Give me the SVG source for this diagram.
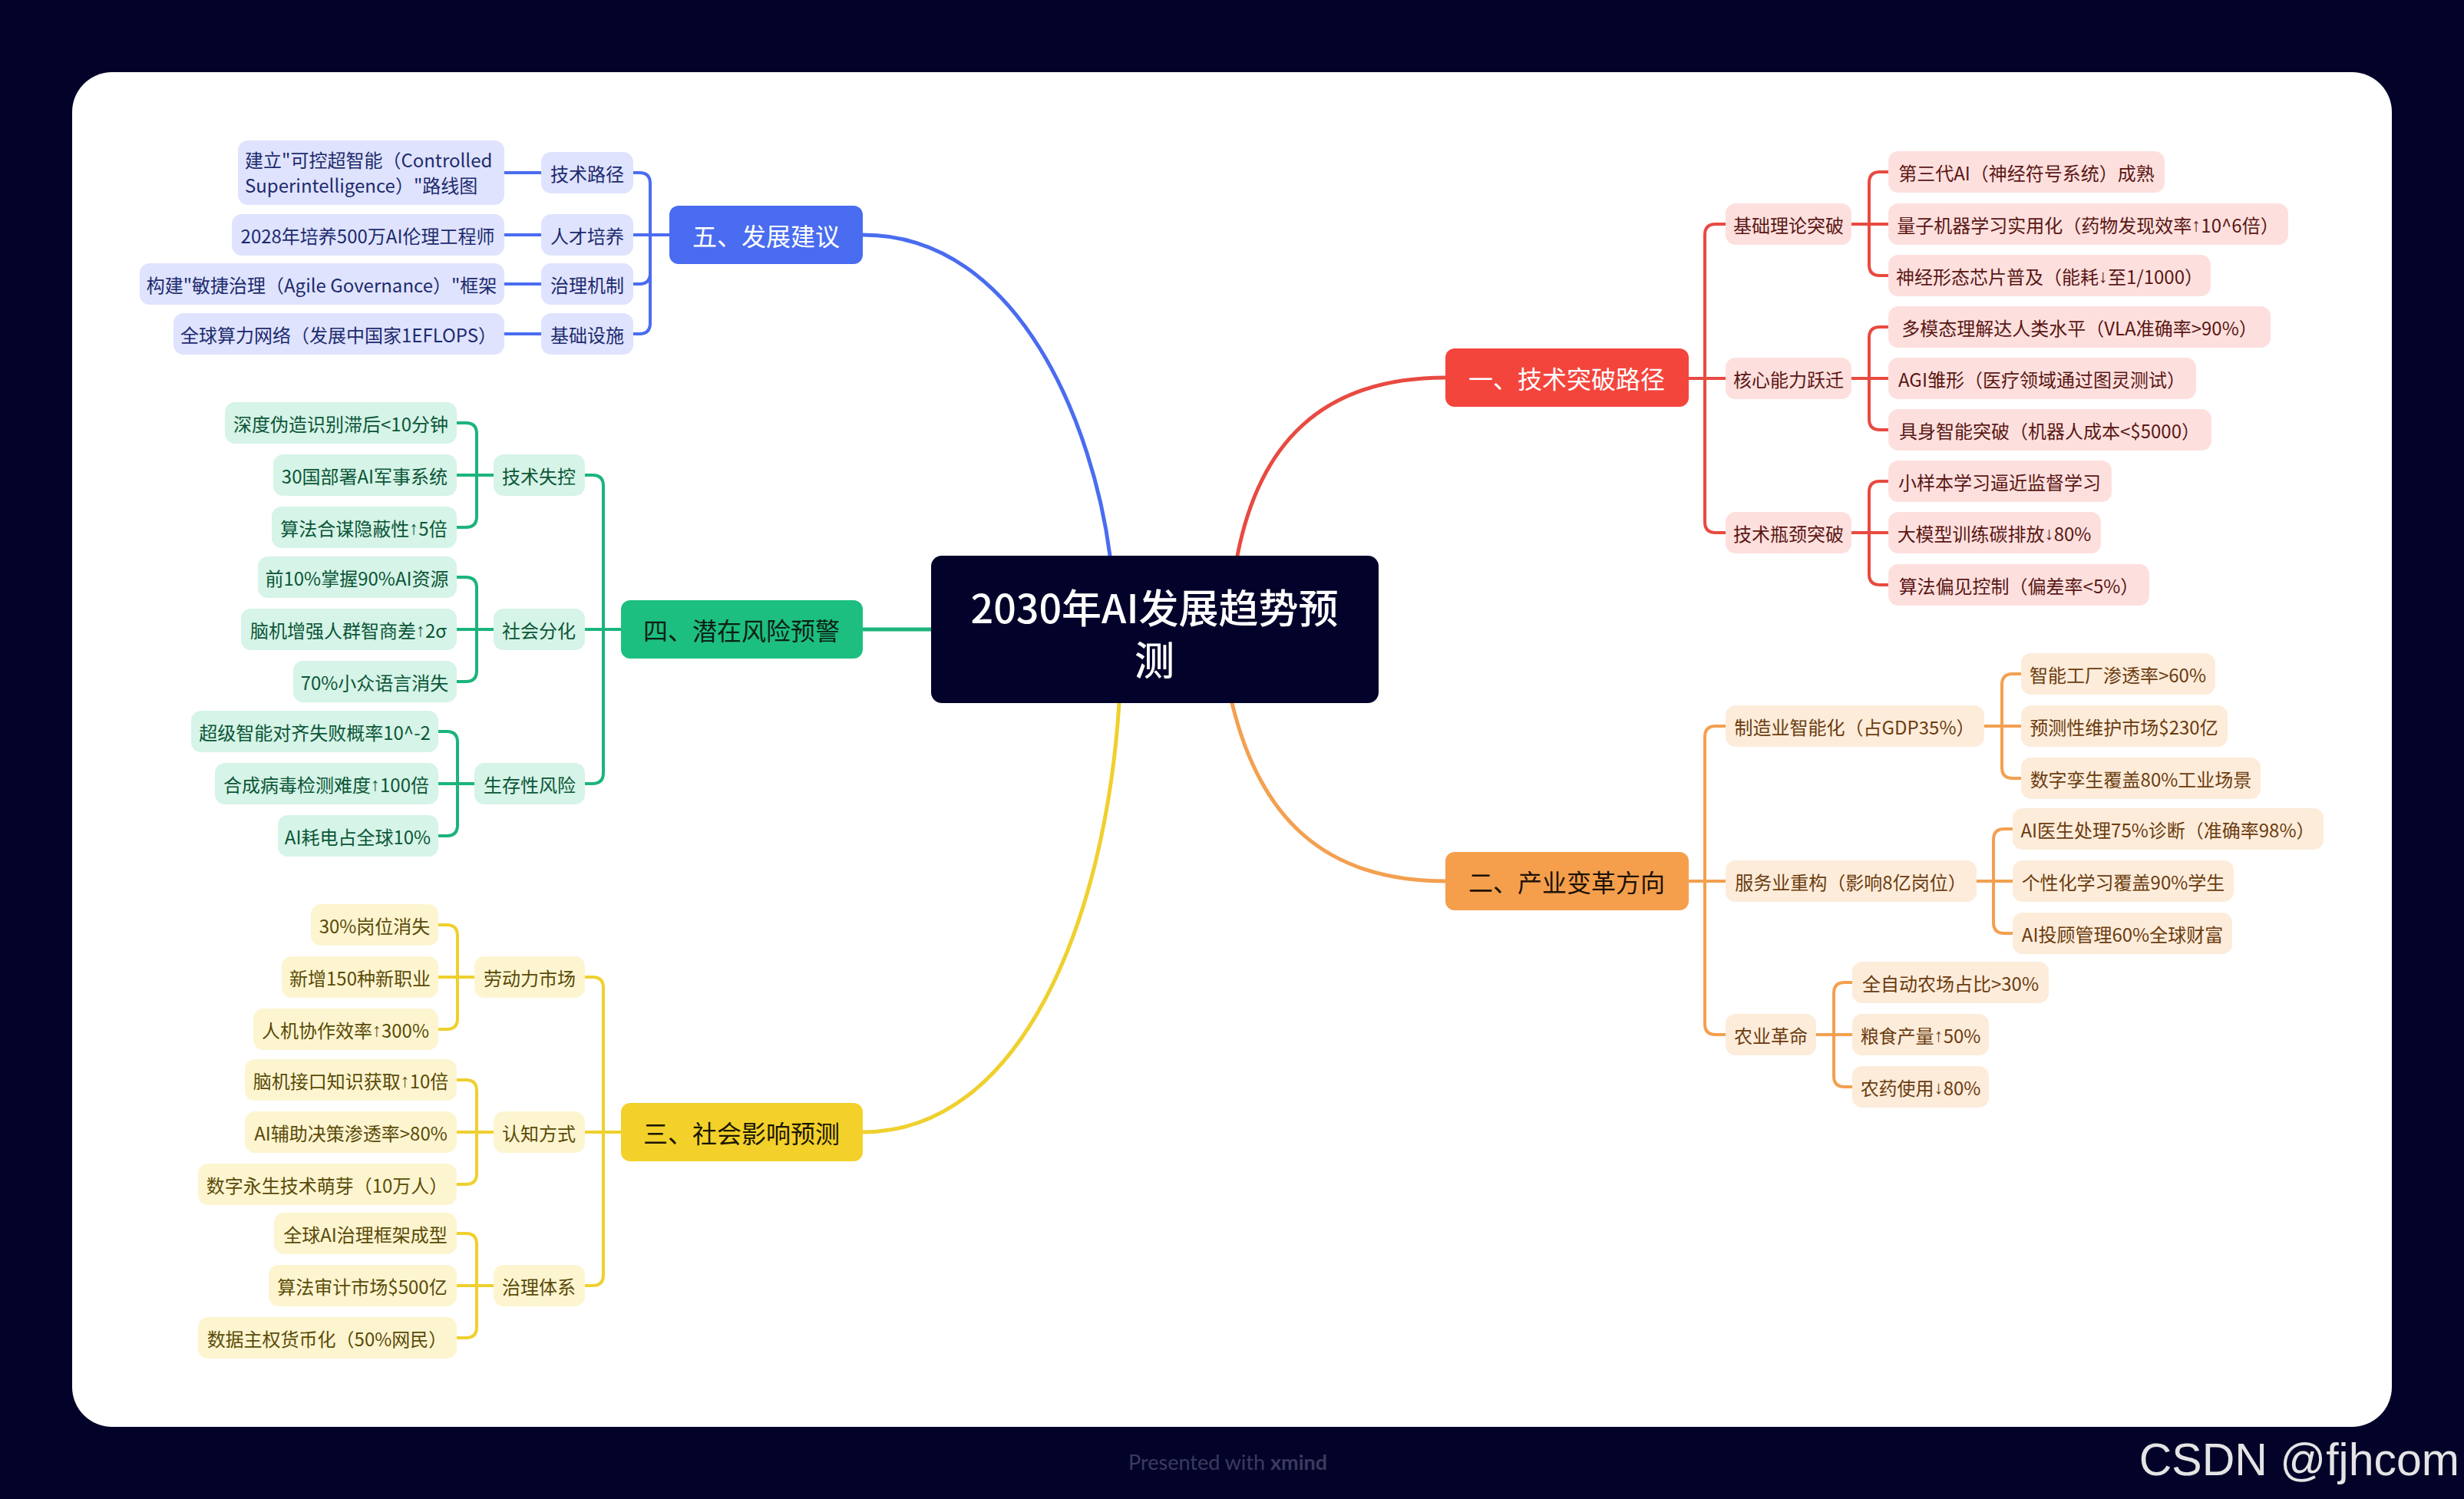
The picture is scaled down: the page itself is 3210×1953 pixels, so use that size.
<svg xmlns="http://www.w3.org/2000/svg" width="3210" height="1953" viewBox="0 0 3210 1953">
<style>
text{font-family:"Noto Sans CJK SC","Noto Sans",sans-serif}
.s{font-size:24px;text-anchor:middle;dominant-baseline:central}
.m{font-size:32px;text-anchor:middle;dominant-baseline:central}
.c{font-size:52px;text-anchor:middle;dominant-baseline:central;fill:#fff;font-weight:500}
.a{font-family:"Liberation Sans",Arial,sans-serif}
.rf{fill:#fde0de}.rt{fill:#5a1714}
.of{fill:#fdecda}.ot{fill:#6b3c10}
.gf{fill:#d6f4e7}.gt{fill:#0b5638}
.yf{fill:#fdf5d0}.yt{fill:#5a4b08}
.bf{fill:#dfe3fd}.bt{fill:#1d2b6e}
.lr{stroke:#e84a41}.lo{stroke:#f3a050}.lg{stroke:#1bb47b}.ly{stroke:#efd02e}.lb{stroke:#4a6cf0}
#conn path{fill:none;stroke-width:4;stroke-linecap:round;stroke-linejoin:round}
#conn .main{stroke-width:5}
</style>
<rect x="0" y="0" width="3210" height="1953" fill="#03032a"/>
<rect x="94" y="94" width="3022" height="1765" rx="52" fill="#ffffff"/>

<g id="conn">
<path class="main lb" d="M1124,306 C1330,306 1425,560 1446,724"/>
<path class="main lr" d="M1612,724 C1640,580 1720,492 1883,492"/>
<path class="main lg" d="M1124,820 H1213"/>
<path class="main lo" d="M1605,916 C1640,1060 1720,1148 1883,1148"/>
<path class="main ly" d="M1458,916 C1440,1200 1330,1475 1124,1475"/>

<path class="lr" d="M2200,493 H2221 V306 Q2221,292 2235,292 H2248"/>
<path class="lr" d="M2200,493 H2248"/>
<path class="lr" d="M2200,493 H2221 V680 Q2221,694 2235,694 H2248"/>
<path class="lr" d="M2412,292 H2435 V238 Q2435,224 2449,224 H2460"/>
<path class="lr" d="M2412,292 H2460"/>
<path class="lr" d="M2412,292 H2435 V345 Q2435,359 2449,359 H2460"/>
<path class="lr" d="M2412,493 H2435 V440 Q2435,426 2449,426 H2460"/>
<path class="lr" d="M2412,493 H2460"/>
<path class="lr" d="M2412,493 H2435 V546 Q2435,560 2449,560 H2460"/>
<path class="lr" d="M2412,694 H2435 V641 Q2435,627 2449,627 H2460"/>
<path class="lr" d="M2412,694 H2460"/>
<path class="lr" d="M2412,694 H2435 V748 Q2435,762 2449,762 H2460"/>

<path class="lo" d="M2200,1148 H2221 V960 Q2221,946 2235,946 H2248"/>
<path class="lo" d="M2200,1148 H2248"/>
<path class="lo" d="M2200,1148 H2221 V1334 Q2221,1348 2235,1348 H2248"/>
<path class="lo" d="M2585,946 H2608 V892 Q2608,878 2622,878 H2633"/>
<path class="lo" d="M2585,946 H2633"/>
<path class="lo" d="M2585,946 H2608 V1000 Q2608,1014 2622,1014 H2633"/>
<path class="lo" d="M2575,1148 H2597 V1094 Q2597,1080 2611,1080 H2622"/>
<path class="lo" d="M2575,1148 H2622"/>
<path class="lo" d="M2575,1148 H2597 V1202 Q2597,1216 2611,1216 H2622"/>
<path class="lo" d="M2366,1348 H2389 V1294 Q2389,1280 2403,1280 H2413"/>
<path class="lo" d="M2366,1348 H2413"/>
<path class="lo" d="M2366,1348 H2389 V1402 Q2389,1416 2403,1416 H2413"/>

<path class="lb" d="M872,306 H847 V239 Q847,225 833,225 H825"/>
<path class="lb" d="M872,306 H825"/>
<path class="lb" d="M872,306 H847 V356 Q847,370 833,370 H825"/>
<path class="lb" d="M872,306 H847 V421 Q847,435 833,435 H825"/>
<path class="lb" d="M657,225 H705"/>
<path class="lb" d="M657,306 H705"/>
<path class="lb" d="M657,370 H705"/>
<path class="lb" d="M657,435 H705"/>

<path class="lg" d="M809,820 H786 V633 Q786,619 772,619 H762"/>
<path class="lg" d="M809,820 H762"/>
<path class="lg" d="M809,820 H786 V1007 Q786,1021 772,1021 H762"/>
<path class="lg" d="M643,619 H621 V565 Q621,551 607,551 H595"/>
<path class="lg" d="M643,619 H595"/>
<path class="lg" d="M643,619 H621 V673 Q621,687 607,687 H595"/>
<path class="lg" d="M643,820 H621 V766 Q621,752 607,752 H595"/>
<path class="lg" d="M643,820 H595"/>
<path class="lg" d="M643,820 H621 V874 Q621,888 607,888 H595"/>
<path class="lg" d="M618,1021 H596 V967 Q596,953 582,953 H571"/>
<path class="lg" d="M618,1021 H571"/>
<path class="lg" d="M618,1021 H596 V1075 Q596,1089 582,1089 H571"/>

<path class="ly" d="M809,1475 H786 V1287 Q786,1273 772,1273 H762"/>
<path class="ly" d="M809,1475 H762"/>
<path class="ly" d="M809,1475 H786 V1661 Q786,1675 772,1675 H762"/>
<path class="ly" d="M618,1273 H596 V1219 Q596,1205 582,1205 H571"/>
<path class="ly" d="M618,1273 H571"/>
<path class="ly" d="M618,1273 H596 V1327 Q596,1341 582,1341 H571"/>
<path class="ly" d="M643,1475 H621 V1421 Q621,1407 607,1407 H595"/>
<path class="ly" d="M643,1475 H595"/>
<path class="ly" d="M643,1475 H621 V1529 Q621,1543 607,1543 H595"/>
<path class="ly" d="M643,1675 H621 V1621 Q621,1607 607,1607 H595"/>
<path class="ly" d="M643,1675 H595"/>
<path class="ly" d="M643,1675 H621 V1729 Q621,1743 607,1743 H595"/>
</g>

<g id="n-root"><rect x="1213" y="724" width="583" height="192" rx="14" fill="#02022a"/>
<text class="c" x="1504" y="789">2030年AI发展趋势预</text><text class="c" x="1504" y="857">测</text></g>

<g id="n-m5"><rect x="872" y="268" width="252" height="76" rx="12" fill="#4a6cf0"/><text class="m" x="998" y="306" fill="#fff">五、发展建议</text></g>
<g id="n-m1"><rect x="1883" y="454" width="317" height="76" rx="12" fill="#f4453d"/><text class="m" x="2041" y="492" fill="#fff">一、技术突破路径</text></g>
<g id="n-m4"><rect x="809" y="782" width="315" height="76" rx="12" fill="#1dbf80"/><text class="m" x="966" y="820" fill="#0c1f16">四、潜在风险预警</text></g>
<g id="n-m2"><rect x="1883" y="1110" width="317" height="76" rx="12" fill="#f59f4d"/><text class="m" x="2041" y="1148" fill="#1e1206">二、产业变革方向</text></g>
<g id="n-m3"><rect x="809" y="1437" width="315" height="76" rx="12" fill="#f3d12a"/><text class="m" x="966" y="1475" fill="#1a1604">三、社会影响预测</text></g>

<!-- red -->
<g id="n-r1"><rect class="rf" x="2248" y="265" width="164" height="54" rx="13"/><text class="s rt" x="2330" y="292">基础理论突破</text></g>
<g id="n-r2"><rect class="rf" x="2248" y="466" width="164" height="54" rx="13"/><text class="s rt" x="2330" y="493">核心能力跃迁</text></g>
<g id="n-r3"><rect class="rf" x="2248" y="667" width="164" height="54" rx="13"/><text class="s rt" x="2330" y="694">技术瓶颈突破</text></g>
<g id="n-r11"><rect class="rf" x="2460" y="197" width="360" height="54" rx="13"/><text class="s rt" x="2640" y="224">第三代AI（神经符号系统）成熟</text></g>
<g id="n-r12"><rect class="rf" x="2460" y="265" width="521" height="54" rx="13"/><text class="s rt" x="2720" y="292">量子机器学习实用化（药物发现效率<tspan class="a">↑</tspan>10^6倍）</text></g>
<g id="n-r13"><rect class="rf" x="2460" y="332" width="420" height="54" rx="13"/><text class="s rt" x="2670" y="359">神经形态芯片普及（能耗<tspan class="a">↓</tspan>至1/1000）</text></g>
<g id="n-r21"><rect class="rf" x="2460" y="399" width="498" height="54" rx="13"/><text class="s rt" x="2709" y="426">多模态理解达人类水平（VLA准确率&gt;90%）</text></g>
<g id="n-r22"><rect class="rf" x="2460" y="466" width="401" height="54" rx="13"/><text class="s rt" x="2660" y="493">AGI雏形（医疗领域通过图灵测试）</text></g>
<g id="n-r23"><rect class="rf" x="2460" y="533" width="421" height="54" rx="13"/><text class="s rt" x="2670" y="560">具身智能突破（机器人成本&lt;$5000）</text></g>
<g id="n-r31"><rect class="rf" x="2460" y="600" width="291" height="54" rx="13"/><text class="s rt" x="2605" y="627">小样本学习逼近监督学习</text></g>
<g id="n-r32"><rect class="rf" x="2460" y="667" width="277" height="54" rx="13"/><text class="s rt" x="2598" y="694">大模型训练碳排放<tspan class="a">↓</tspan>80%</text></g>
<g id="n-r33"><rect class="rf" x="2460" y="735" width="340" height="54" rx="13"/><text class="s rt" x="2630" y="762">算法偏见控制（偏差率&lt;5%）</text></g>

<!-- orange -->
<g id="n-o1"><rect class="of" x="2248" y="919" width="337" height="54" rx="13"/><text class="s ot" x="2416" y="946">制造业智能化（占GDP35%）</text></g>
<g id="n-o2"><rect class="of" x="2248" y="1121" width="327" height="54" rx="13"/><text class="s ot" x="2411" y="1148">服务业重构（影响8亿岗位）</text></g>
<g id="n-o3"><rect class="of" x="2248" y="1321" width="118" height="54" rx="13"/><text class="s ot" x="2307" y="1348">农业革命</text></g>
<g id="n-o11"><rect class="of" x="2633" y="851" width="253" height="54" rx="13"/><text class="s ot" x="2759" y="878">智能工厂渗透率&gt;60%</text></g>
<g id="n-o12"><rect class="of" x="2633" y="919" width="269" height="54" rx="13"/><text class="s ot" x="2767" y="946">预测性维护市场$230亿</text></g>
<g id="n-o13"><rect class="of" x="2633" y="987" width="312" height="54" rx="13"/><text class="s ot" x="2789" y="1014">数字孪生覆盖80%工业场景</text></g>
<g id="n-o21"><rect class="of" x="2622" y="1053" width="405" height="54" rx="13"/><text class="s ot" x="2824" y="1080">AI医生处理75%诊断（准确率98%）</text></g>
<g id="n-o22"><rect class="of" x="2622" y="1121" width="288" height="54" rx="13"/><text class="s ot" x="2766" y="1148">个性化学习覆盖90%学生</text></g>
<g id="n-o23"><rect class="of" x="2622" y="1189" width="286" height="54" rx="13"/><text class="s ot" x="2765" y="1216">AI投顾管理60%全球财富</text></g>
<g id="n-o31"><rect class="of" x="2413" y="1253" width="256" height="54" rx="13"/><text class="s ot" x="2541" y="1280">全自动农场占比&gt;30%</text></g>
<g id="n-o32"><rect class="of" x="2413" y="1321" width="178" height="54" rx="13"/><text class="s ot" x="2502" y="1348">粮食产量<tspan class="a">↑</tspan>50%</text></g>
<g id="n-o33"><rect class="of" x="2413" y="1389" width="178" height="54" rx="13"/><text class="s ot" x="2502" y="1416">农药使用<tspan class="a">↓</tspan>80%</text></g>

<!-- blue -->
<g id="n-b1"><rect class="bf" x="705" y="198" width="120" height="54" rx="13"/><text class="s bt" x="765" y="225">技术路径</text></g>
<g id="n-b2"><rect class="bf" x="705" y="279" width="120" height="54" rx="13"/><text class="s bt" x="765" y="306">人才培养</text></g>
<g id="n-b3"><rect class="bf" x="705" y="343" width="120" height="54" rx="13"/><text class="s bt" x="765" y="370">治理机制</text></g>
<g id="n-b4"><rect class="bf" x="705" y="408" width="120" height="54" rx="13"/><text class="s bt" x="765" y="435">基础设施</text></g>
<g id="n-b11"><rect class="bf" x="310" y="183" width="347" height="84" rx="13"/><text class="bt" font-size="24" x="319" y="218">建立"可控超智能（Controlled</text><text class="bt" font-size="24" x="319" y="251">Superintelligence）"路线图</text></g>
<g id="n-b21"><rect class="bf" x="302" y="279" width="355" height="54" rx="13"/><text class="s bt" x="479" y="306">2028年培养500万AI伦理工程师</text></g>
<g id="n-b31"><rect class="bf" x="182" y="343" width="475" height="54" rx="13"/><text class="s bt" x="419" y="370">构建"敏捷治理（Agile Governance）"框架</text></g>
<g id="n-b41"><rect class="bf" x="226" y="408" width="431" height="54" rx="13"/><text class="s bt" x="441" y="435">全球算力网络（发展中国家1EFLOPS）</text></g>

<!-- green -->
<g id="n-g1"><rect class="gf" x="643" y="592" width="119" height="54" rx="13"/><text class="s gt" x="702" y="619">技术失控</text></g>
<g id="n-g2"><rect class="gf" x="643" y="793" width="119" height="54" rx="13"/><text class="s gt" x="702" y="820">社会分化</text></g>
<g id="n-g3"><rect class="gf" x="618" y="994" width="144" height="54" rx="13"/><text class="s gt" x="690" y="1021">生存性风险</text></g>
<g id="n-g11"><rect class="gf" x="293" y="524" width="302" height="54" rx="13"/><text class="s gt" x="444" y="551">深度伪造识别滞后&lt;10分钟</text></g>
<g id="n-g12"><rect class="gf" x="356" y="592" width="239" height="54" rx="13"/><text class="s gt" x="475" y="619">30国部署AI军事系统</text></g>
<g id="n-g13"><rect class="gf" x="354" y="660" width="241" height="54" rx="13"/><text class="s gt" x="474" y="687">算法合谋隐蔽性<tspan class="a">↑</tspan>5倍</text></g>
<g id="n-g21"><rect class="gf" x="336" y="725" width="259" height="54" rx="13"/><text class="s gt" x="465" y="752">前10%掌握90%AI资源</text></g>
<g id="n-g22"><rect class="gf" x="314" y="793" width="281" height="54" rx="13"/><text class="s gt" x="454" y="820">脑机增强人群智商差<tspan class="a">↑</tspan>2σ</text></g>
<g id="n-g23"><rect class="gf" x="382" y="861" width="213" height="54" rx="13"/><text class="s gt" x="488" y="888">70%小众语言消失</text></g>
<g id="n-g31"><rect class="gf" x="249" y="926" width="322" height="54" rx="13"/><text class="s gt" x="410" y="953">超级智能对齐失败概率10^-2</text></g>
<g id="n-g32"><rect class="gf" x="280" y="994" width="291" height="54" rx="13"/><text class="s gt" x="425" y="1021">合成病毒检测难度<tspan class="a">↑</tspan>100倍</text></g>
<g id="n-g33"><rect class="gf" x="362" y="1062" width="209" height="54" rx="13"/><text class="s gt" x="466" y="1089">AI耗电占全球10%</text></g>

<!-- yellow -->
<g id="n-y1"><rect class="yf" x="618" y="1246" width="144" height="54" rx="13"/><text class="s yt" x="690" y="1273">劳动力市场</text></g>
<g id="n-y2"><rect class="yf" x="643" y="1448" width="119" height="54" rx="13"/><text class="s yt" x="702" y="1475">认知方式</text></g>
<g id="n-y3"><rect class="yf" x="643" y="1648" width="119" height="54" rx="13"/><text class="s yt" x="702" y="1675">治理体系</text></g>
<g id="n-y11"><rect class="yf" x="405" y="1178" width="166" height="54" rx="13"/><text class="s yt" x="488" y="1205">30%岗位消失</text></g>
<g id="n-y12"><rect class="yf" x="367" y="1246" width="204" height="54" rx="13"/><text class="s yt" x="469" y="1273">新增150种新职业</text></g>
<g id="n-y13"><rect class="yf" x="330" y="1314" width="241" height="54" rx="13"/><text class="s yt" x="450" y="1341">人机协作效率<tspan class="a">↑</tspan>300%</text></g>
<g id="n-y21"><rect class="yf" x="319" y="1380" width="276" height="54" rx="13"/><text class="s yt" x="457" y="1407">脑机接口知识获取<tspan class="a">↑</tspan>10倍</text></g>
<g id="n-y22"><rect class="yf" x="319" y="1448" width="276" height="54" rx="13"/><text class="s yt" x="457" y="1475">AI辅助决策渗透率&gt;80%</text></g>
<g id="n-y23"><rect class="yf" x="258" y="1516" width="337" height="54" rx="13"/><text class="s yt" x="426" y="1543">数字永生技术萌芽（10万人）</text></g>
<g id="n-y31"><rect class="yf" x="357" y="1580" width="238" height="54" rx="13"/><text class="s yt" x="476" y="1607">全球AI治理框架成型</text></g>
<g id="n-y32"><rect class="yf" x="350" y="1648" width="245" height="54" rx="13"/><text class="s yt" x="472" y="1675">算法审计市场$500亿</text></g>
<g id="n-y33"><rect class="yf" x="258" y="1716" width="337" height="54" rx="13"/><text class="s yt" x="426" y="1743">数据主权货币化（50%网民）</text></g>

<text x="1470" y="1915" font-size="27" fill="#3b3b5c" style="font-family:Lato,'Open Sans',sans-serif">Presented with <tspan font-weight="bold">xmind</tspan></text>
<text x="3204" y="1922" font-size="59" fill="#e4e4e4" text-anchor="end" style="font-family:'Liberation Sans',Arial,sans-serif">CSDN @fjhcom</text>
</svg>
